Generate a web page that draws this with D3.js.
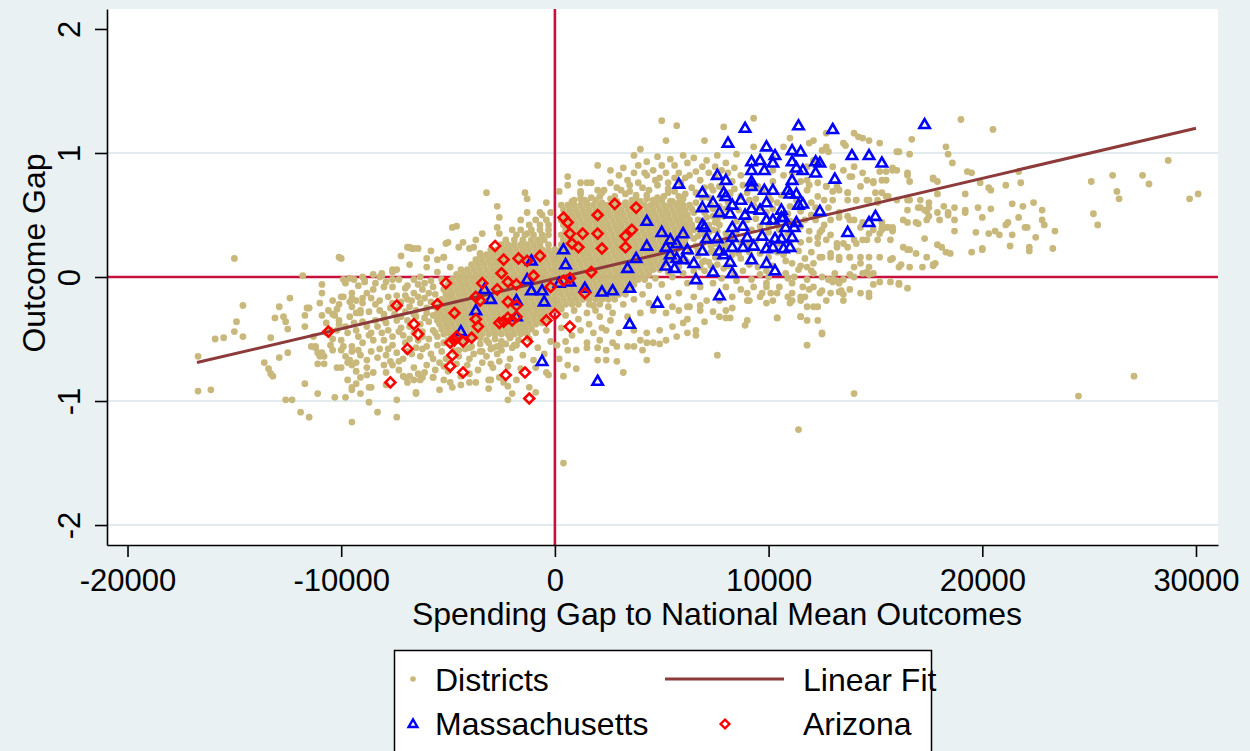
<!DOCTYPE html>
<html>
<head>
<meta charset="utf-8">
<script src="https://cdn.jsdelivr.net/npm/d3@7"></script>
<style>
  html, body { margin: 0; padding: 0; background: #e9f1f3; }
  svg { display: block; font-family: "Liberation Sans", Arial, sans-serif; }
</style>
</head>
<body>
<div id="chart"></div>
<script>
// spending gap in $1000s, outcome gap; flat list of x, y pairs
var districtXY = [
  // far left
  -16.7,-.64, -16.7,-.92, -16.1,-.91, -15.9,-.50, -15.5,-.49, -15.0,-.44, -14.6,-.23, -14.9,-.36, -14.6,-.48, -15.0,.15,
  -13.6,-.69, -13.4,-.74, -13.3,-.78, -13.2,-.80, -13.3,-.49, -12.9,-.24, -13.1,-.33, -12.7,-.32, -12.6,-.36, -12.5,-.42,
  -12.9,-.65, -12.5,-.61, -12.6,-.99, -12.3,-.99, -12.4,-.17, -11.9,-1.09, -11.5,-1.13, -11.7,-.86, -11.7,-.31, -11.7,-.40,
  -11.6,-.25, -11.4,-.56, -11.2,-.56, -11.1,-.70, -11.1,-.94, -11.0,-.64, -10.8,-.64, -10.8,-.70, -11.8,.01, -10.9,-.06,
  -10.9,-.13, -10.9,-.31, -10.7,-.37, -10.5,-.43, -10.4,-.50, -10.5,-.55, -10.3,-.97, -9.8,-.97, -10.3,-.31, -10.1,-.38,
  -10.1,-.22, -10.0,-.59, -10.0,-.73, -10.1,.16, -10.0,.15, -10.0,-.16, -9.5,-1.17, -9.5,-.60, -9.6,-.67, -9.5,-.71,
  -9.6,-.20, -9.5,-.17, -9.3,-.29, -9.0,-.17, -9.1,-.27, -9.5,-.89, -9.3,-.86, -9.1,-.94, -8.8,-.79, -8.6,-.89,
  -8.3,-1.09, -7.4,-.99, -9.8,-.05, -9.6,-.01, -9.4,-.02, -8.9,-.03, -8.5,.02, -8.1,.01, -7.6,.04, -7.4,.06,
  -6.9,.24, -6.7,.23, -7.6,-.02, -11.2,-.57, -11.1,-.61,
  // left, medium density
  -9.9,-.02, -9.0,.00, -8.9,-.04, -8.2,.00, -7.6,.06, -8.1,.03, -6.8,.24, -6.6,.23, -6.4,.23, -6.0,.15,
  -5.5,.14, -5.2,.16, -6.3,.00, -6.6,-.02, -7.3,-.02, -7.6,-.08, -8.0,-.08, -8.5,-.10, -8.8,-.13, -9.5,-.13,
  -9.9,-.16, -10.4,-.19, -11.0,-.21, -11.5,-.25, -9.5,-.24, -9.0,-.21, -8.6,-.17, -8.2,-.19, -7.8,-.16, -7.4,-.15,
  -7.0,-.15, -6.6,-.13, -6.2,-.10, -5.7,-.08, -5.2,-.10, -10.1,-.35, -9.6,-.32, -9.1,-.29, -8.7,-.28, -8.2,-.27,
  -7.7,-.25, -7.3,-.24, -6.8,-.24, -6.3,-.21, -5.8,-.20, -5.4,-.19, -4.9,-.16, -11.3,-.48, -10.7,-.45, -10.2,-.43,
  -9.7,-.45, -9.3,-.43, -8.8,-.40, -8.3,-.40, -7.9,-.37, -7.4,-.35, -6.9,-.35, -6.5,-.32, -6.0,-.29, -5.5,-.29,
  -10.9,-.61, -10.4,-.59, -9.9,-.56, -9.5,-.56, -9.0,-.53, -8.5,-.51, -8.0,-.51, -7.6,-.48, -7.1,-.47, -6.6,-.45,
  -6.2,-.44, -5.7,-.43, -10.2,-.73, -9.7,-.69, -9.3,-.69, -8.8,-.67, -8.3,-.65, -7.9,-.63, -7.4,-.61, -6.9,-.60,
  -6.5,-.57, -6.0,-.56, -5.5,-.55, -9.7,-.83, -9.1,-.81, -8.5,-.77, -7.9,-.77, -7.3,-.75, -6.6,-.73, -6.0,-.71,
  -5.4,-.69, -9.5,-.91, -8.7,-.89, -7.9,-.87, -6.9,-.85, -6.3,-.83, -5.7,-.81, -8.7,-1.01, -6.5,-.94, -5.4,-.91,
  -4.8,-.89, -4.0,-.85, -3.0,-.83, -2.4,-.85, -1.8,-.83, -1.2,-.89, -.4,-.77, -7.4,-1.13, -2.0,-.94, -2.2,-.99,
  -8.0,-.30, -7.5,-.30, -7.0,-.28, -6.5,-.27, -6.0,-.25, -5.6,-.24, -7.8,-.43, -7.2,-.41, -6.8,-.40, -6.3,-.38,
  -5.9,-.36, -5.5,-.35, -7.6,-.55, -7.0,-.53, -6.4,-.51, -5.9,-.50, -5.5,-.48, -7.7,-.68, -7.1,-.66, -6.3,-.64,
  -5.8,-.62, -5.3,-.60, -7.2,-.20, -6.7,-.19, -6.1,-.17, -5.6,-.14, -8.4,-.35, -8.6,-.45, -8.2,-.58, -8.0,-.71,
  -6.8,-.80, -6.1,-.77, -5.0,-.76, -6.9,-.07, -6.1,-.05, -5.5,.04, -4.9,.08, -6.8,.10, -6.0,.08, -9.2,-.48,
  -9.4,-.37, -10.6,-.27, -7.2,.17, -5.8,.21,
  -9.2,-.07, -8.4,-.05, -7.9,-.04, -7.0,-.09, -6.4,-.06, -5.8,-.03, -5.3,-.02, -10.2,-.26, -9.3,-.19, -8.4,-.22,
  -7.6,-.21, -6.9,-.18, -6.4,-.16, -5.9,-.13, -5.1,-.22, -4.8,-.05, -9.8,-.40, -9.0,-.36, -8.0,-.34, -7.2,-.32,
  -6.6,-.30, -6.1,-.33, -5.7,-.31, -5.2,-.33, -10.4,-.30, -10.0,-.51, -9.2,-.59, -8.7,-.47, -8.1,-.45, -7.3,-.44,
  -6.8,-.50, -6.2,-.48, -5.6,-.45, -5.2,-.53, -9.8,-.64, -9.1,-.63, -8.6,-.60, -7.8,-.58, -7.3,-.68, -6.7,-.62,
  -6.2,-.58, -5.7,-.66, -5.1,-.66, -9.3,-.76, -8.8,-.73, -7.6,-.71, -7.1,-.80, -6.4,-.78, -5.6,-.75, -5.2,-.72,
  -4.6,-.70, -4.4,-.80, -4.0,-.66, -3.4,-.60, -2.6,-.68, -3.0,-.70, -4.7,-.60,
  // upper left of the cloud
  -3.2,.68, -1.4,.68, -2.7,.57, -2.6,.48, -2.7,.40, -4.6,.41, -5.0,.28, -5.2,.16, -4.5,.24, -3.7,.30,
  -4.0,.23, -3.4,.35, -1.6,.46, -1.3,.52, -.7,.52, -.4,.60, -5.1,.27, -4.8,.40, -4.3,.28, -3.8,.24,
  -3.5,.19, -1.3,.63, -.2,.52, .6,.74, -2.0,.38, -2.6,.35, -2.2,.24, -1.3,.35,
  // top edge of the dense centre
  1.2,.67, 1.7,.64, 2.2,.68, 2.8,.65, 3.3,.67, 3.8,.63, 4.3,.66, 4.8,.64, 5.3,.68, 5.8,.65,
  .8,.61, 1.2,.63, 1.5,.60, 1.9,.62, 2.2,.60, 2.6,.63, 2.9,.61, 3.3,.60, 3.6,.62, 4.0,.61,
  4.3,.63, 4.7,.60, 5.0,.62, 5.4,.61, 5.8,.60,
  // bottom edge of the dense centre
  -5.0,-.51, -4.6,-.49, -4.2,-.52, -3.9,-.50, -3.5,-.49, -3.2,-.51, -2.8,-.50, -2.5,-.52, -2.1,-.49, -1.7,-.51,
  -4.8,-.55, -4.3,-.53, -3.9,-.56, -3.5,-.54, -3.1,-.53, -2.7,-.56, -2.3,-.54, -1.9,-.55, -4.5,-.59, -4.0,-.57,
  -3.5,-.60, -3.0,-.58, -2.5,-.59, -2.0,-.57,
  // below the cloud
  -6.5,-.93, -.9,-.93, -2.2,-.88, -3.1,-.90, -3.7,-.85, -4.4,-.87, -5.2,-.83, -4.9,-.85, -5.7,-.81, -6.2,-.81,
  -6.6,-.83, -7.0,-.81, -3.1,-.83, -2.6,-.81, -3.4,-.69, -4.1,-.71, .4,-1.50, -3.8,-.62, -3.2,-.64, -2.7,-.62,
  -2.1,-.66, -1.5,-.63, -1.0,-.67, -.5,-.62, -3.6,-.75, -2.9,-.73, -2.2,-.72, -1.6,-.74, -.9,-.73, -4.5,-.64,
  -4.0,-.78, .2,-.66, .6,-.71, -1.8,-.55, -.8,-.57, .1,-.55, -2.9,-.57, -4.2,-.58,
  -.3,-.27, .5,-.31, 1.9,-.27, 2.6,-.35, -.6,-.37, .3,-.41, 1.6,-.38, 2.2,-.41, -.9,-.45, .8,-.47,
  -1.2,-.50, -.2,-.52, .5,-.52, -1.6,-.44, -2.1,-.49, -.4,-.43, 1.1,-.34, -1.0,-.30, -1.5,-.38, -2.5,-.54,
  .9,-.27, 1.5,-.29, 2.1,-.32, 2.7,-.29, 3.4,-.32, 4.0,-.29, 4.6,-.27, 5.2,-.29, 5.8,-.27, 6.3,-.24,
  6.8,-.27, 7.4,-.28, 8.0,-.27, 1.2,-.43, 1.8,-.45, 2.4,-.43, 3.0,-.45, 3.7,-.43, 4.3,-.45, 4.9,-.43,
  5.5,-.40, 6.0,-.37, 1.5,-.53, 2.1,-.51, 2.7,-.53, 3.7,-.56, 4.1,-.59, 4.6,-.53, 5.2,-.51, 5.7,-.48,
  6.2,-.45, 4.9,-.54, 4.3,-.53, 4.0,-.51, 2.9,-.56, 3.4,-.56, 2.4,-.59, 2.0,-.57, 1.5,-.57, 1.0,-.59,
  .6,-.59, 4.3,-.67, 3.2,-.77, 2.0,-.67, 2.4,-.67, 2.9,-.68, 1.0,-.74, .4,-.80, -.3,-.79, 7.6,-.63,
  11.8,-.55, 10.4,-.33, 11.5,-.32, 11.8,-.35, 6.6,-.47, 6.6,-.43, 8.9,-.39, 9.0,-.35, 9.7,-.13, 10.1,-.13,
  9.9,-.08, 8.3,-.25, 7.7,-.32, 8.0,-.33, 8.2,-.33, 6.2,-.34, 7.0,-.36, 10.4,-.13, 11.1,-.13, 11.7,-.16,
  12.1,-.08, 9.0,-.13, 9.1,-.19, 9.9,-.21, 11.0,-.21, 11.4,-1.23,
  // right of the dense centre
  5.5,.00, 6.2,-.05, 6.8,-.08, 7.4,-.05, 8.0,-.08, 8.7,-.10, 9.3,-.08, 9.9,-.05, 10.5,-.08, 11.1,-.05,
  11.8,-.02, 5.8,-.13, 6.5,-.16, 7.1,-.19, 7.7,-.19, 8.3,-.16, 9.0,-.19, 9.6,-.16, 10.2,-.19, 10.9,-.16,
  11.5,-.19, 12.1,-.24, 5.5,-.24, 6.2,-.24, 6.8,-.23,
  6.6,.60, 7.0,.52, 6.7,.46, 7.1,.48, 6.8,.38, 7.2,.36, 6.5,.31, 6.9,.27, 7.3,.25, 6.3,.20,
  6.7,.17, 6.2,.12, 6.8,.08, 5.8,.08, 5.3,.04, 6.0,.03, 4.7,-.01, 5.0,-.06, 4.4,-.07, 4.1,-.14,
  3.7,-.18, 4.4,-.21, 5.3,-.16, 3.2,-.22, 2.5,-.24, 1.8,-.23, 6.0,.25, 6.4,.42, 6.9,.64, 7.4,.70,
  6.1,.67, 5.6,.69,
  4.6,.62, 5.1,.65, 5.5,.61, 6.0,.63, 6.3,.58, 5.8,.55, 6.5,.52, 6.0,.48, 6.6,.68, 7.0,.72,
  5.3,.76, 4.7,.78, 4.1,.72, 3.5,.74, 2.9,.72, 6.1,.80, 5.6,.80, 7.2,.84, 6.9,.89, 5.4,.95,
  4.8,.97, 6.0,.98, 4.3,.82, 3.2,.88, 2.6,.86, 3.9,.90, 6.5,.96, 7.6,.98, 8.4,.88, 8.7,.82,
  7.8,.86, 5.9,.56, 6.4,.55, 6.2,.36, 6.6,.25, 5.9,.32, 6.1,.14, 6.5,.05, 5.7,.12, 7.2,.12,
  7.5,.16, 7.1,.31, 7.5,.44, 7.7,.57, 7.8,.64,
  6.8,.55, 7.3,.58, 6.9,.45, 7.4,.49, 7.0,.34, 7.6,.37, 6.7,.21, 7.4,.21, 6.9,.12, 7.8,.23,
  7.2,.42, 6.7,.33, 7.7,.50,
  // between the Massachusetts markers
  8.4,.71, 9.5,.73, 10.6,.66, 11.8,.70, 12.6,.62, 7.2,.64, 8.1,.60, 9.4,.63, 10.4,.60, 11.0,.57,
  12.0,.60, 7.4,.55, 8.6,.54, 9.9,.52, 10.9,.51, 12.0,.50, 12.8,.56, 7.6,.46, 8.5,.45, 9.4,.47,
  10.4,.43, 11.7,.46, 12.6,.42, 7.4,.38, 8.0,.35, 9.2,.38, 10.0,.36, 10.9,.35, 11.9,.37, 12.9,.34,
  7.9,.28, 8.7,.28, 9.4,.29, 10.5,.27, 11.5,.28, 12.3,.27, 7.3,.20, 8.0,.25, 8.6,.19, 9.6,.19,
  10.4,.20, 11.4,.21, 12.0,.20, 7.0,.13, 7.6,.10, 8.7,.15, 9.5,.08, 10.8,.13, 11.5,.09, 7.0,.05,
  7.9,.07, 8.8,.05, 9.6,.02, 10.8,.03, 11.4,.06, 7.8,-.01, 8.5,-.03, 9.2,-.02, 10.0,.00, 10.9,-.01,
  8.2,.67, 9.0,.68, 10.0,.66, 11.3,.62, 12.2,.56, 8.0,.55, 9.3,.58, 10.2,.55, 11.5,.53, 7.9,.49,
  9.0,.46, 10.0,.42, 11.0,.45, 12.2,.46, 7.7,.42, 8.5,.37, 9.6,.41, 10.5,.38, 11.5,.41, 12.4,.36,
  7.5,.27, 8.3,.29, 9.0,.26, 10.0,.28, 11.0,.28, 11.9,.30, 7.7,.16, 8.3,.18, 9.1,.20, 10.0,.16,
  10.7,.18, 11.7,.15, 7.3,.09, 8.1,.09, 9.1,.10, 10.2,.09, 11.1,.11, 12.0,.05, 8.4,.02, 9.9,.05,
  11.2,.00,
  // upper spread
  5.0,1.26, 5.7,1.22, 9.3,1.28, 7.9,1.21, 7.0,1.10, 5.2,1.10, 4.0,1.03, 3.7,.98, 2.0,.90, 8.5,.99,
  9.3,1.05, 4.3,.93, 5.0,.90, 5.6,.90, 6.2,.92, 6.6,.85, 6.3,.82, 5.8,.84, 5.2,.84, 4.6,.86,
  3.7,.84, 3.4,.78, 3.0,.82, 2.6,.76, 2.3,.70, 2.0,.70, 1.7,.76, 1.5,.76, 1.2,.76, .6,.81,
  1.2,.69, .2,.69, .9,.62, 1.4,.62, 2.1,.65, 2.7,.62, 3.1,.70, 3.5,.69, 3.9,.76, 4.2,.84,
  7.1,.94, 7.5,.89, 8.0,.92, 8.1,.84, 7.5,.81, 8.3,.77, 8.8,.74, 9.3,.72, 9.7,.69, 10.2,.77,
  10.7,.82, 11.1,.84, 11.5,.77, 11.9,.74, 12.3,.65, 10.1,.62, 9.6,.56, 9.1,.62, 8.7,.65, 8.2,.68,
  7.7,.73, 7.3,.73, 10.7,1.05, 10.2,.96, 11.0,1.12, 11.9,1.08, 10.2,.86, 4.8,.74, 5.3,.71, 5.9,.76,
  6.4,.72, 6.8,.78, 4.4,.70, 3.8,.66, 4.9,.80,
  // 12000 to 18000
  14.0,.89, 13.9,.81, 14.4,.84, 14.6,.78, 14.9,.76, 15.3,.78, 15.5,.85, 15.2,.85, 15.0,.68, 15.3,.68,
  15.6,.65, 15.1,.62, 14.7,.62, 14.1,.62, 13.7,.62, 13.7,.68, 13.3,.70, 13.0,.69, 13.0,.62, 12.7,.73,
  13.3,.52, 13.7,.49, 14.0,.46, 14.4,.44, 15.3,.44, 15.6,.40, 15.8,.38, 15.2,.35, 14.7,.35, 14.4,.30,
  14.0,.30, 13.5,.27, 13.2,.24, 12.9,.19, 12.5,.16, 13.3,.16, 13.8,.16, 14.3,.11, 14.7,.08, 14.0,.08,
  14.6,.03, 13.1,.03, 12.8,-.02, 13.3,-.05, 16.0,.86, 15.8,.88, 16.5,.82, 16.6,.77, 16.5,.62, 16.5,.54,
  16.3,.46, 17.1,.62, 12.1,1.10, 12.7,1.16, 13.5,1.08, 14.0,1.16, 14.4,1.12, 14.7,1.10, 15.2,1.08, 16.0,1.01,
  16.7,1.11, 17.7,.80, 17.9,.77, 16.5,.84, 15.8,.86, 15.5,.78, 14.9,.77, 14.3,.73, 13.8,.81, 13.5,.86,
  13.0,.89, 12.5,1.02, 12.1,.94, 11.8,.89, 11.8,.78, 12.3,.76, 12.7,.73, 13.2,.73, 13.7,.68, 14.1,.62,
  14.6,.62, 15.1,.60, 15.5,.65, 16.0,.62, 16.6,.62, 17.1,.56, 17.5,.56, 17.9,.52, 17.4,.46, 16.9,.44,
  16.5,.44, 15.8,.40, 15.3,.40, 14.9,.38, 14.3,.40, 13.8,.46, 13.3,.48, 12.9,.46, 12.5,.38, 12.3,.32,
  12.7,.30, 13.2,.27, 13.7,.24, 14.1,.27, 14.6,.30, 15.1,.30, 15.7,.30, 16.3,.24, 16.9,.19, 17.4,.16,
  17.8,.11, 17.2,.08, 16.6,.08, 16.1,.08, 15.7,.14, 15.2,.16, 14.7,.16, 14.3,.16, 13.8,.16, 13.3,.14,
  12.9,.16, 12.4,.16, 12.1,.11, 11.8,.08, 12.1,.03, 12.5,.00, 13.0,-.02, 13.5,-.02, 14.0,.00, 14.4,.03,
  14.9,.03, 15.2,-.04, 15.7,-.04, 16.1,-.05, 16.5,-.09, 14.7,-.13, 14.3,-.13, 13.8,-.10, 13.3,-.12, 12.9,-.13,
  12.4,-.13, 11.9,-.10, 11.6,-.08, 11.5,-.16, 11.1,-.19, 11.8,-.24, 12.3,-.24, 12.7,-.19, 13.5,-.19, 11.5,-.32,
  12.3,-.35, 12.5,-.45, 10.4,-.33,
  // far right
  19.0,1.27, 20.5,1.19, 28.7,.94, 25.1,.77, 26.1,.82, 27.5,.82, 27.8,.75, 26.3,.69, 26.4,.63, 25.2,.51,
  25.4,.42, 29.7,.63, 30.1,.67, 18.3,1.05, 18.4,.99, 18.6,.92, 16.6,.99, 16.1,1.01, 14.2,1.13, 13.6,1.06,
  12.7,1.05, 12.8,1.01, 19.3,.85, 19.5,.84, 19.2,.67, 19.9,.76, 20.3,.72, 20.4,.70, 21.1,.74, 21.8,.76,
  21.7,.85, 21.4,.59, 21.9,.57, 22.4,.60, 22.8,.54, 22.8,.46, 22.9,.42, 23.4,.37, 23.3,.23, 22.2,.24,
  22.2,.21, 22.5,.32, 22.0,.40, 22.1,.40, 21.7,.48, 21.4,.34, 21.3,.25, 21.2,.44, 21.1,.42, 20.8,.34,
  20.6,.37, 20.3,.35, 20.0,.48, 19.8,.56, 20.4,.55, 20.0,.23, 19.7,.36, 19.5,.20, 19.2,.52, 19.2,.54,
  17.7,.79, 17.9,.67, 17.5,.60, 17.0,.56, 17.4,.53, 17.5,.49, 17.3,.54, 18.0,.46, 18.4,.50, 18.4,.52,
  18.2,.57, 18.7,.37, 18.7,.46, 18.7,.56, 18.3,.20, 18.5,.19, 18.1,.24, 17.9,.26, 17.7,.10, 17.3,.31,
  17.0,.43, 16.5,.22, 16.6,.22, 16.2,.10, 15.8,.37, 15.5,.40, 15.3,.38, 15.8,.15, 17.7,.09, 20.0,.22,
  12.5,-.46, 14.0,-.94, 24.5,-.96, 27.1,-.80, 12.5,-.11, 13.4,-.11, 13.5,-.14, 13.0,-.04, 13.2,-.03, 14.7,-.16,
  14.9,-.06, 16.1,-.06, 13.8,.02, 14.6,.04, 14.7,.02
];

// saturated centre of the cloud: [outcome gap x100, spending gaps in $100s ...]
var districtRows = [
  [58, 3, 6, 9, 12, 15, 18, 21, 24, 27, 30, 33, 36, 39, 42, 45, 48, 51, 54, 57, 60],
  [54, 4, 7, 10, 13, 16, 19, 22, 25, 28, 31, 34, 37, 40, 43, 46, 49, 52, 55, 58, 61],
  [50, -6, 5, 8, 11, 14, 17, 20, 23, 26, 29, 32, 35, 38, 41, 44, 47, 50, 53, 56, 59, 62],
  [46, -9, -4, 3, 6, 9, 12, 15, 18, 21, 24, 27, 30, 33, 36, 39, 42, 45, 48, 51, 54, 57, 60, 63],
  [42, -12, -7, -3, 4, 7, 10, 13, 16, 19, 22, 25, 28, 31, 34, 37, 40, 43, 46, 49, 52, 55, 58, 61, 64],
  [38, -16, -11, -7, -3, 5, 8, 11, 14, 17, 20, 23, 26, 29, 32, 35, 38, 41, 44, 47, 50, 53, 56, 59, 62, 65],
  [34, -18, -14, -10, -6, -3, 3, 6, 9, 12, 15, 18, 21, 24, 27, 30, 33, 36, 39, 42, 45, 48, 51, 54, 57, 60, 63],
  [30, -23, -19, -15, -11, -8, -5, 4, 7, 10, 13, 16, 19, 22, 25, 28, 31, 34, 37, 40, 43, 46, 49, 52, 55, 58, 61],
  [26, -25, -22, -19, -16, -13, -10, -7, -3, 3, 5, 8, 11, 14, 17, 20, 23, 26, 29, 32, 35, 38, 41, 44, 47, 50, 53, 56, 59],
  [22, -30, -27, -24, -21, -18, -15, -12, -9, -6, -3, 0, 3, 6, 9, 12, 15, 18, 21, 24, 27, 30, 33, 36, 39, 42, 45, 48, 51, 54, 57],
  [18, -35, -32, -29, -26, -23, -20, -17, -14, -11, -8, -5, -2, 1, 4, 7, 10, 13, 16, 19, 22, 25, 28, 31, 34, 37, 40, 43, 46, 49, 52, 55],
  [14, -37, -34, -31, -28, -25, -22, -19, -16, -13, -10, -7, -4, -1, 2, 5, 8, 11, 14, 17, 20, 23, 26, 29, 32, 35, 38, 41, 44, 47, 50, 53],
  [10, -39, -36, -33, -30, -27, -24, -21, -18, -15, -12, -9, -6, -3, 0, 3, 6, 9, 12, 15, 18, 21, 24, 27, 30, 33, 36, 39, 42, 45, 48, 51],
  [6, -44, -41, -38, -35, -32, -29, -26, -23, -20, -17, -14, -11, -8, -5, -2, 1, 4, 7, 10, 13, 16, 19, 22, 25, 28, 31, 34, 37, 40, 43, 46, 49],
  [2, -46, -43, -40, -37, -34, -31, -28, -25, -22, -19, -16, -13, -10, -7, -4, -1, 2, 5, 8, 11, 14, 17, 20, 23, 26, 29, 32, 35, 38, 41, 44],
  [-2, -48, -45, -42, -39, -36, -33, -30, -27, -24, -21, -18, -15, -12, -9, -6, -3, 0, 3, 6, 9, 12, 15, 18, 21, 24, 27, 30, 33, 36, 39, 42],
  [-6, -50, -47, -44, -41, -38, -35, -32, -29, -26, -23, -20, -17, -14, -11, -8, -5, -2, 1, 4, 7, 10, 13, 16, 19, 22, 25, 28, 31, 34, 37],
  [-10, -49, -46, -43, -40, -37, -34, -31, -28, -25, -22, -19, -16, -13, -10, -7, -4, -1, 2, 5, 8, 11, 14, 17, 20, 23, 26, 29, 32, 35],
  [-14, -51, -48, -45, -42, -39, -36, -33, -30, -27, -24, -21, -18, -15, -12, -9, -6, -3, 0, 3, 6, 9, 12, 15, 18, 21, 24, 27, 30, 33],
  [-18, -53, -50, -47, -44, -41, -38, -35, -32, -29, -26, -23, -20, -17, -14, -11, -8, -5, -2, 1, 4, 7, 10, 13, 16, 19, 22, 25, 28],
  [-22, -52, -49, -46, -43, -40, -37, -34, -31, -28, -25, -22, -19, -16, -13, -10, -7, -4, -1, 2, 5, 8, 11, 16, 21],
  [-26, -54, -51, -48, -45, -42, -39, -36, -33, -30, -27, -24, -21, -18, -15, -12, -9, -6, -3, 0, 3],
  [-30, -53, -50, -47, -44, -41, -38, -35, -32, -29, -26, -23, -20, -17, -14, -11, -8, -5],
  [-34, -55, -52, -49, -46, -43, -40, -37, -34, -31, -28, -25, -22, -19, -16, -13, -10, -7, -4],
  [-38, -54, -51, -48, -45, -42, -39, -36, -33, -30, -27, -24, -21, -18, -15, -12, -9],
  [-42, -53, -50, -47, -44, -41, -38, -35, -32, -29, -26, -23, -20, -17, -14, -11],
  [-46, -52, -49, -46, -43, -40, -37, -34, -31, -28, -25, -22, -19, -16, -13]
];

// spending gap ($1000s), outcome gap
var massachusetts = [
  [8.9,1.20],[11.4,1.22],[13.0,1.19],[17.3,1.23],[8.1,1.08],[9.9,1.05],[11.1,1.02],[11.5,1.01],[13.9,.98],[14.7,.98],
  [15.3,.92],[9.2,.93],[9.6,.94],[10.2,.92],[10.3,.98],[11.1,.93],[11.3,.88],[11.6,.86],[12.2,.93],[12.4,.92],
  [9.2,.86],[9.8,.86],[12.2,.84],[13.1,.79],[7.6,.82],[8.0,.78],[9.2,.77],[9.2,.73],[11.1,.78],[5.8,.75],
  [9.8,.70],[10.2,.70],[10.9,.70],[11.0,.67],[11.3,.67],[6.9,.68],[7.9,.68],[8.0,.65],[7.4,.60],[8.7,.62],
  [9.9,.60],[6.9,.56],[8.3,.58],[9.2,.55],[9.6,.54],[10.6,.54],[11.4,.58],[11.6,.59],[12.4,.53],[7.7,.52],
  [8.2,.51],[8.9,.50],[10.6,.48],[10.7,.48],[4.3,.45],[6.9,.42],[7.0,.40],[8.3,.40],[8.8,.41],[9.9,.46],
  [10.2,.46],[10.8,.40],[11.3,.44],[11.2,.40],[15.0,.49],[14.7,.44],[13.7,.36],[5.0,.36],[6.0,.35],[7.1,.31],
  [7.6,.31],[8.3,.32],[9.0,.32],[9.7,.33],[10.3,.31],[10.6,.31],[11.1,.32],[5.4,.30],[5.7,.27],[5.2,.24],
  [4.3,.25],[6.2,.22],[6.9,.21],[7.7,.21],[8.3,.24],[8.8,.24],[9.3,.25],[9.9,.23],[10.2,.24],[10.7,.23],
  [11.0,.24],[5.4,.18],[5.7,.15],[6.0,.14],[6.5,.11],[3.8,.15],[3.4,.07],[7.9,.18],[8.2,.12],[9.2,.14],
  [9.9,.11],[10.3,.05],[5.2,.09],[5.6,.07],[7.4,.04],[8.3,.03],[6.6,-.02],[2.2,-.12],[2.7,-.11],[3.5,-.09],
  [1.4,-.09],[.5,.10],[.4,.22],[7.7,-.15],[4.8,-.21],[3.5,-.38],[-1.1,.13],[-1.3,-.02],[-3.3,-.10],[-3.0,-.18],
  [-3.7,-.27],[-1.8,-.19],[-1.8,-.32],[-1.1,-.11],[-.6,-.11],[-.5,-.20],[-4.4,-.44],[-.6,-.68],[.2,-.05],[.7,-.04],
  [2.0,-.84]
];

var arizona = [
  [-10.6,-.44],[-7.4,-.23],[-7.7,-.85],[-6.6,-.38],[-6.4,-.46],[-6.9,-.58],[-5.5,-.22],[-5.1,-.05],[-4.7,-.29],[-4.9,-.53],
  [-4.7,-.51],[-4.6,-.48],[-4.3,-.52],[-4.8,-.63],[-4.9,-.72],[-4.3,-.77],[-3.9,-.49],[-3.7,-.34],[-3.6,-.40],[-3.7,-.16],
  [-3.5,-.19],[-3.4,-.05],[-2.8,.25],[-2.7,-.10],[-2.5,.03],[-2.4,.14],[-2.2,-.04],[-1.8,-.06],[-1.7,.15],[-1.3,.13],
  [-2.6,-.37],[-2.4,-.36],[-2.2,-.33],[-2.0,-.35],[-1.8,-.32],[-2.2,-.20],[-1.8,-.23],[-1.0,.01],[-.7,.17],[-.2,-.08],
  [0,-.30],[-.4,-.35],[-1.3,-.52],[-2.3,-.79],[-1.4,-.77],[-1.2,-.98],[.4,.48],[.6,.44],[.7,.35],[.8,.27],
  [1.1,.24],[.4,-.03],[.7,-.01],[.7,-.40],[2.0,.50],[2.8,.59],[3.8,.56],[1.3,.35],[2.0,.35],[2.2,.23],
  [3.3,.33],[3.6,.38],[3.3,.24],[1.7,.04],[1.4,-.13]
];

// end points of the fitted line ($1000s, outcome gap)
var fitEnds = [[-16.75, -.69], [30.0, 1.20]];

var xTicks = [-20000, -10000, 0, 10000, 20000, 30000],
    yTicks = [-2, -1, 0, 1, 2],
    yGrid = [-2, -1, 1];

(function() {
  var width = 1250, height = 751,
      plot = {left: 107, right: 1218, top: 9, bottom: 545},
      tickFont = 31,
      titleFont = 32,
      colors = {bg: "#e9f1f3", grid: "#e2ebee", ref: "#c8103c", district: "#c9b87b",
                fit: "#8c3a3a", ma: "#0000ff", az: "#ff0000"};

  var x = d3.scaleLinear().domain([-20960, 31030]).range([plot.left, plot.right]),
      y = d3.scaleLinear().domain([-2.161, 2.161]).range([plot.bottom, plot.top]);

  var districts = [];
  for (var i = 0; i < districtXY.length; i += 2) {
    districts.push([districtXY[i] * 1000, districtXY[i + 1]]);
  }
  districtRows.forEach(function(row) {
    row.slice(1).forEach(function(v) { districts.push([v * 100, row[0] / 100]); });
  });

  var triangle = "M0,-5.4L5.2,3.6L-5.2,3.6Z",
      diamond = "M0,-5L5,0L0,5L-5,0Z";

  var svg = d3.select("#chart").append("svg")
      .attr("width", width)
      .attr("height", height);

  svg.append("rect").attr("width", width).attr("height", height).attr("fill", colors.bg);
  svg.append("rect")
      .attr("x", plot.left).attr("y", plot.top)
      .attr("width", plot.right - plot.left).attr("height", plot.bottom - plot.top)
      .attr("fill", "#fff");

  // grid lines
  svg.append("g").selectAll("line")
      .data(yGrid)
    .enter().append("line")
      .attr("x1", plot.left).attr("x2", plot.right)
      .attr("y1", function(d) { return y(d); }).attr("y2", function(d) { return y(d); })
      .attr("stroke", colors.grid).attr("stroke-width", 2);

  // reference lines at zero
  svg.append("line")
      .attr("x1", plot.left).attr("x2", plot.right).attr("y1", y(0)).attr("y2", y(0))
      .attr("stroke", colors.ref).attr("stroke-width", 2.6);
  svg.append("line")
      .attr("x1", x(0)).attr("x2", x(0)).attr("y1", plot.top).attr("y2", plot.bottom)
      .attr("stroke", colors.ref).attr("stroke-width", 2.6);

  svg.append("g").selectAll("circle")
      .data(districts)
    .enter().append("circle")
      .attr("cx", function(d) { return x(d[0]); })
      .attr("cy", function(d) { return y(d[1]); })
      .attr("r", 3.4)
      .attr("fill", colors.district);

  svg.append("path")
      .datum(fitEnds)
      .attr("d", d3.line().x(function(d) { return x(d[0] * 1000); }).y(function(d) { return y(d[1]); }))
      .attr("fill", "none").attr("stroke", colors.fit).attr("stroke-width", 3);

  svg.append("g").selectAll("path")
      .data(massachusetts)
    .enter().append("path")
      .attr("d", triangle)
      .attr("transform", function(d) { return "translate(" + x(d[0] * 1000) + "," + y(d[1]) + ")"; })
      .attr("fill", "none").attr("stroke", colors.ma).attr("stroke-width", 2.6);

  svg.append("g").selectAll("path")
      .data(arizona)
    .enter().append("path")
      .attr("d", diamond)
      .attr("transform", function(d) { return "translate(" + x(d[0] * 1000) + "," + y(d[1]) + ")"; })
      .attr("fill", "none").attr("stroke", colors.az).attr("stroke-width", 2.6);

  // axes
  var yAxis = svg.append("g")
      .attr("transform", "translate(" + plot.left + ",0)")
      .call(d3.axisLeft(y).tickValues(yTicks).tickSize(12).tickSizeOuter(0).tickFormat(function(d) { return String(d); }));
  yAxis.selectAll("text")
      .attr("transform", "rotate(-90)")
      .attr("x", 0).attr("y", -27).attr("dy", 0)
      .style("text-anchor", "middle");

  var xAxis = svg.append("g")
      .attr("transform", "translate(0," + plot.bottom + ")")
      .call(d3.axisBottom(x).tickValues(xTicks).tickSize(12).tickSizeOuter(0).tickFormat(function(d) { return String(d); }));
  xAxis.selectAll("text").attr("y", 46).attr("dy", 0);

  svg.selectAll(".domain, .tick line").attr("stroke", "#000").attr("stroke-width", 1.6);
  svg.selectAll(".tick text").attr("fill", "#000").style("font-size", tickFont + "px")
      .style("font-family", "'Liberation Sans', Arial, sans-serif");

  svg.append("text")
      .attr("x", 717).attr("y", 625)
      .attr("text-anchor", "middle").attr("font-size", titleFont)
      .text("Spending Gap to National Mean Outcomes");
  svg.append("text")
      .attr("transform", "translate(45,253) rotate(-90)")
      .attr("text-anchor", "middle").attr("font-size", titleFont)
      .text("Outcome Gap");

  // legend
  var legend = svg.append("g");
  legend.append("rect")
      .attr("x", 394.5).attr("y", 650.5).attr("width", 537).attr("height", 130)
      .attr("fill", "#fff").attr("stroke", "#000").attr("stroke-width", 1.5);
  legend.append("circle").attr("cx", 413).attr("cy", 679).attr("r", 2.8).attr("fill", colors.district);
  legend.append("line").attr("x1", 665).attr("x2", 784).attr("y1", 679).attr("y2", 679)
      .attr("stroke", colors.fit).attr("stroke-width", 3);
  legend.append("path").attr("d", "M0,-4.6L4.4,3L-4.4,3Z").attr("transform", "translate(413,724)")
      .attr("fill", "none").attr("stroke", colors.ma).attr("stroke-width", 2.4);
  legend.append("path").attr("d", "M0,-4.4L4.4,0L0,4.4L-4.4,0Z").attr("transform", "translate(725,724)")
      .attr("fill", "none").attr("stroke", colors.az).attr("stroke-width", 2.4);
  [["Districts", 435, 691], ["Linear Fit", 803, 691], ["Massachusetts", 435, 735], ["Arizona", 803, 735]]
    .forEach(function(t) {
      legend.append("text").attr("x", t[1]).attr("y", t[2]).attr("font-size", titleFont).text(t[0]);
    });
})();
</script>
</body>
</html>
